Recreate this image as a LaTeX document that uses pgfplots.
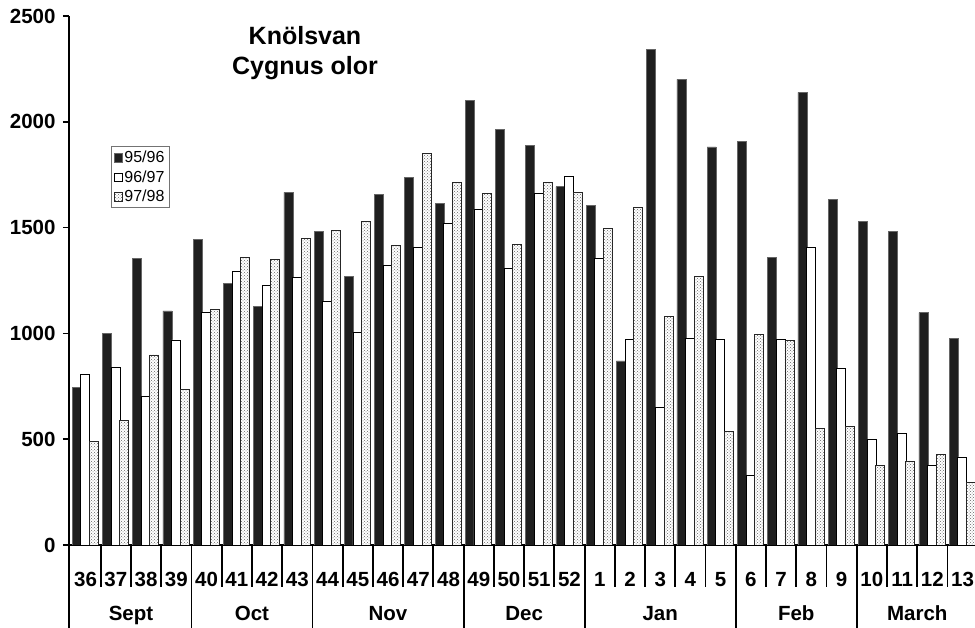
\documentclass[border=0pt]{standalone}
\usepackage{pgfplots}
\pgfplotsset{compat=1.18}
\usepackage{pgfplotstable}
\usetikzlibrary{patterns}
\usepackage{fontspec}
\setmainfont{Liberation Sans}

\pgfplotstableread{
x a b c
0 745 808 490
1 999 838 587
2 1355 701 898
3 1106 969 733
4 1443 1100 1115
5 1238 1295 1358
6 1126 1227 1348
7 1667 1263 1448
8 1482 1153 1485
9 1271 1003 1530
10 1657 1320 1415
11 1736 1405 1849
12 1615 1518 1712
13 2102 1585 1662
14 1963 1309 1421
15 1887 1659 1714
16 1693 1742 1664
17 1605 1355 1497
18 870 972 1596
19 2344 651 1082
20 2201 977 1271
21 1881 972 537
22 1906 328 996
23 1361 972 966
24 2139 1407 551
25 1632 836 561
26 1531 498 378
27 1481 529 397
28 1098 377 427
29 975 416 296
}\data

\begin{document}
\begin{tikzpicture}
\path[use as bounding box] (-69pt,-83pt) rectangle (906pt,545pt);
\begin{axis}[
  at={(0,0)}, anchor=south west,
  scale only axis, width=906pt, height=529pt,
  xmin=-0.55, xmax=29.41, ymin=0, ymax=2500,
  axis x line=bottom, axis y line=left,
  axis line style={line width=2pt,-, black},
  clip mode=individual,
  ytick={0,500,1000,1500,2000,2500},
  /pgf/number format/assume math mode=true,
  /pgf/number format/1000 sep={},
  tick align=outside,
  major tick length=6pt,
  ytick style={line width=1.6pt, black},
  yticklabel style={font=\bfseries\fontsize{20.5}{20.5}\selectfont, anchor=east, xshift=-4pt},
  xtick={0,1,2,3,4,5,6,7,8,9,10,11,12,13,14,15,16,17,18,19,20,21,22,23,24,25,26,27,28,29},
  xticklabels={36,37,38,39,40,41,42,43,44,45,46,47,48,49,50,51,52,1,2,3,4,5,6,7,8,9,10,11,12,13},
  x tick style={draw=none},
  xticklabel style={font=\bfseries\fontsize{20.5}{20.5}\selectfont, anchor=base, yshift=-36pt},
  legend style={at={(rel axis cs:0.0464,0.7543)}, anchor=north west,
    draw=black!55, line width=0.6pt, font=\fontsize{16}{16}\selectfont,
    inner sep=2.5pt, row sep=2.6pt,
    /tikz/every even column/.append style={column sep=1pt}},
  legend cell align=left,
  legend image code/.code={\draw[#1,line width=0.6pt] (0pt,-4.5pt) rectangle (8pt,4pt);},
]
\addplot[ybar, bar width=9pt, bar shift=-9pt, fill=black!88, draw=black!60, line width=0.6pt] table[x=x,y=a]{\data};
\addplot[ybar, bar width=9pt, bar shift=-0.3pt, fill=white, draw=black, line width=0.9pt] table[x=x,y=b]{\data};
\addplot[ybar, bar width=9pt, bar shift=8.3pt, fill=white, draw=black!85, line width=0.9pt, postaction={pattern=crosshatch dots, pattern color=black!60}] table[x=x,y=c]{\data};
\legend{95/96,96/97,97/98}
\pgfplotsinvokeforeach{0.5,1.5,2.5,4.5,5.5,6.5,8.5,9.5,10.5,11.5,13.5,14.5,15.5,17.5,18.5,19.5,20.5,22.5,23.5,24.5,26.5,27.5,28.5}{
  \draw[line width=1.8pt] (axis cs:#1,0) -- ++(0pt,-42pt);
}
\pgfplotsinvokeforeach{-0.55,3.5,7.5,12.5,16.5,21.5,25.5}{
  \draw[line width=1.8pt] (axis cs:#1,0) -- ++(0pt,-83pt);
}
\node[anchor=base, yshift=-76pt, font=\bfseries\fontsize{20.5}{20.5}\selectfont] at (axis cs:1.5,0) {Sept};
\node[anchor=base, yshift=-76pt, font=\bfseries\fontsize{20.5}{20.5}\selectfont] at (axis cs:5.5,0) {Oct};
\node[anchor=base, yshift=-76pt, font=\bfseries\fontsize{20.5}{20.5}\selectfont] at (axis cs:10,0) {Nov};
\node[anchor=base, yshift=-76pt, font=\bfseries\fontsize{20.5}{20.5}\selectfont] at (axis cs:14.5,0) {Dec};
\node[anchor=base, yshift=-76pt, font=\bfseries\fontsize{20.5}{20.5}\selectfont] at (axis cs:19,0) {Jan};
\node[anchor=base, yshift=-76pt, font=\bfseries\fontsize{20.5}{20.5}\selectfont] at (axis cs:23.5,0) {Feb};
\node[anchor=base, yshift=-76pt, font=\bfseries\fontsize{20.5}{20.5}\selectfont] at (axis cs:27.5,0) {March};
\end{axis}
\node[anchor=base, font=\bfseries\fontsize{25}{25}\selectfont] at (236pt,500pt) {Knölsvan};
\node[anchor=base, font=\bfseries\fontsize{25}{25}\selectfont] at (236pt,470pt) {Cygnus olor};
\end{tikzpicture}
\end{document}
